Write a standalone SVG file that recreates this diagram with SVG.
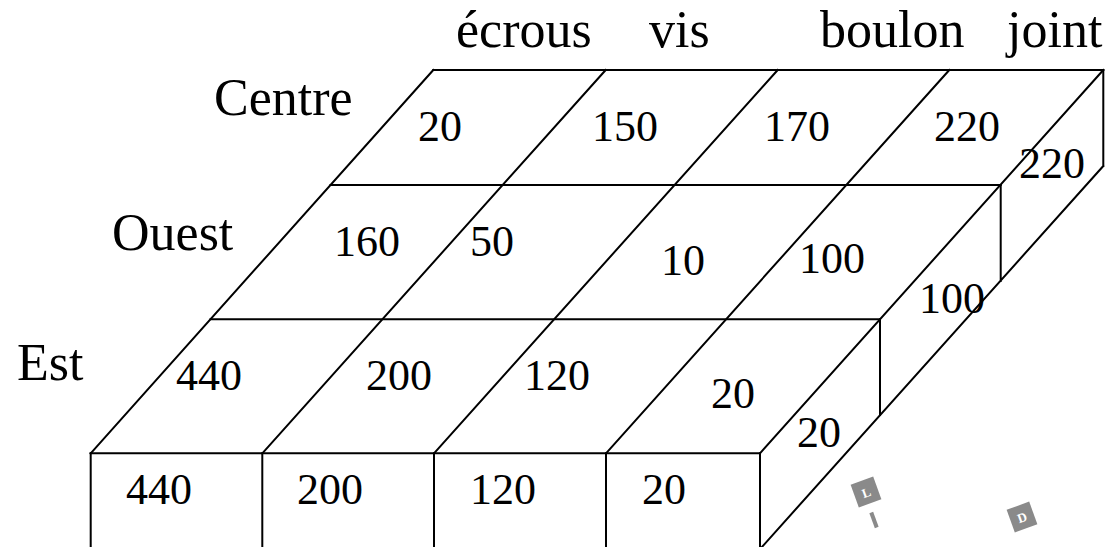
<svg xmlns="http://www.w3.org/2000/svg" width="1119" height="547" viewBox="0 0 1119 547">
<style>
.ln{stroke:#000;stroke-width:2;fill:none;stroke-linecap:square}
.num{font-family:"Liberation Serif","Times New Roman",serif;font-size:44px;fill:#000}
.lab{font-family:"Liberation Serif","Times New Roman",serif;font-size:52px;fill:#000}
.wm{fill:#8a8a8a}
.wmt{font-family:"Liberation Serif",serif;font-size:13px;font-weight:bold;fill:#fff}
</style>
<rect width="1119" height="547" fill="#fff"/>
<g id="connectors">
<path class="ln" d="M433.3,70H1103.3M330.5,185H1000.7M210.5,319.3H880M90.7,453.3H760"/>
<path class="ln" d="M433.3,70L90.7,453.3M605.7,70L262.3,453.3M777.7,70L434,453.3M949.3,70L606,453.3M1103.3,70L760,453.3"/>
<path class="ln" d="M90.7,453.3V548M262.3,453.3V548M434,453.3V548M606,453.3V548M760,453.3V548"/>
<path class="ln" d="M1103.3,70V166M1000.7,185V281M880,319.3V415M1103.3,166L761,548"/>
</g>
<g id="col-labels">
<text class="lab" x="456" y="47">écrous</text>
<text class="lab" x="649" y="47">vis</text>
<text class="lab" x="820" y="47">boulon</text>
<text class="lab" x="1007" y="47">joint</text>
</g>
<g id="row-labels">
<text class="lab" x="214" y="115">Centre</text>
<text class="lab" x="112" y="250">Ouest</text>
<text class="lab" x="17" y="380">Est</text>
</g>
<g id="row-centre">
<text class="num" x="418" y="141">20</text>
<text class="num" x="592" y="141">150</text>
<text class="num" x="764" y="141">170</text>
<text class="num" x="934" y="141">220</text>
<text class="num" x="1019" y="178">220</text>
</g>
<g id="row-ouest">
<text class="num" x="334" y="256">160</text>
<text class="num" x="470" y="256">50</text>
<text class="num" x="661" y="275">10</text>
<text class="num" x="799" y="273">100</text>
<text class="num" x="919" y="313">100</text>
</g>
<g id="row-est">
<text class="num" x="176" y="390">440</text>
<text class="num" x="366" y="390">200</text>
<text class="num" x="524" y="390">120</text>
<text class="num" x="711" y="408">20</text>
<text class="num" x="797" y="447">20</text>
</g>
<g id="front">
<text class="num" x="126" y="504">440</text>
<text class="num" x="297" y="504">200</text>
<text class="num" x="470" y="504">120</text>
<text class="num" x="642" y="504">20</text>
</g>
<g id="watermark">
<g transform="translate(866,492) rotate(-20)">
<rect class="wm" x="-12" y="-12" width="24" height="24"/>
<text class="wmt" x="0" y="5" text-anchor="middle">L</text>
</g>
<rect class="wm" x="872" y="512" width="4" height="16" transform="rotate(-20 874 520)"/>
<g transform="translate(1022,517) rotate(-20)">
<rect class="wm" x="-12" y="-12" width="24" height="24"/>
<text class="wmt" x="0" y="5" text-anchor="middle">D</text>
</g>
</g>
</svg>
